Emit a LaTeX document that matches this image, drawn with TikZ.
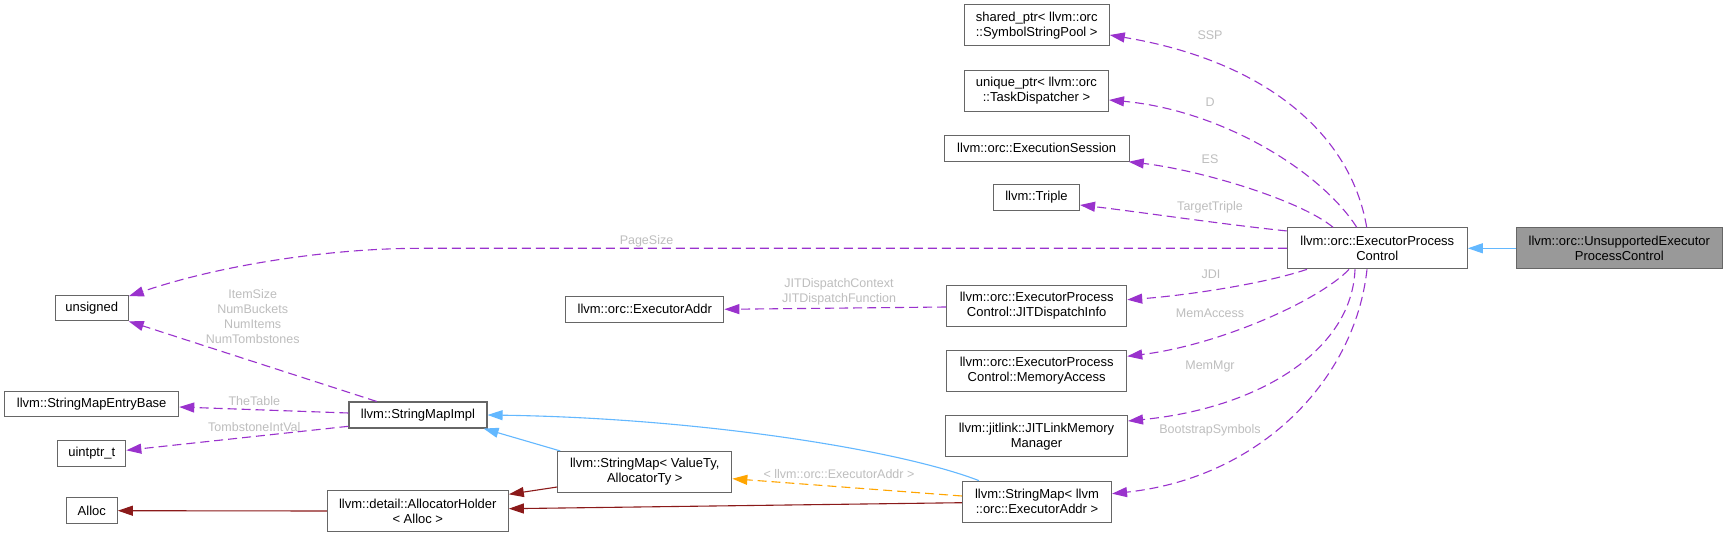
\documentclass[tikz,border=0pt]{standalone}
\usepackage{fontspec}
\setmainfont{Liberation Sans}
\usetikzlibrary{arrows.meta}
\definecolor{Box}{HTML}{666666}
\definecolor{Member}{HTML}{9A32CD}
\definecolor{Inherit}{HTML}{63B8FF}
\definecolor{Holder}{HTML}{8B1A1A}
\definecolor{Templ}{HTML}{FFA500}
\definecolor{Lbl}{HTML}{BEBEBE}
\definecolor{Current}{HTML}{999999}
\begin{document}
\begin{tikzpicture}[x=1pt,y=-1pt,font=\fontsize{13}{15}\selectfont,
    cls/.style 2 args={draw=Box,line width=1.1pt,fill=white,align=center,inner sep=0pt,minimum width=#1,minimum height=#2},
    lbl/.style={text=Lbl,align=center,inner sep=0pt,font=\fontsize{12.5}{15}\selectfont},
    tip/.style={-{Triangle[length=15pt,width=10pt]}},
    mem/.style={tip,Member,line width=1.1pt,dash pattern=on 9pt off 5pt},
    inh/.style={tip,Inherit,line width=1.1pt},
    own/.style={tip,Holder,line width=1.1pt},
    tpl/.style={tip,Templ,line width=1.1pt,dash pattern=on 9pt off 5pt}]
  \fill[white](0,0)rectangle(1727,537);
  \useasboundingbox(0,0)rectangle(1727,537);
  % classes
  \node[cls={206pt}{41pt},fill=Current](uepc)at(1619.3,248.3){llvm::orc::UnsupportedExecutor\\ProcessControl};
  \node[cls={180pt}{41pt}](epc)at(1377.3,248.3){llvm::orc::ExecutorProcess\\Control};
  \node[cls={145pt}{41pt}](ssp)at(1036.7,25.3){shared\_ptr< llvm::orc\\::SymbolStringPool >};
  \node[cls={144pt}{41pt}](disp)at(1036.5,90.7){unique\_ptr< llvm::orc\\::TaskDispatcher >};
  \node[cls={185pt}{26pt}](es)at(1036.7,148.2){llvm::orc::ExecutionSession};
  \node[cls={86pt}{26pt}](triple)at(1036.5,197.5){llvm::Triple};
  \node[cls={73pt}{25pt}](uns)at(91.7,308.3){unsigned};
  \node[cls={180pt}{41pt}](jdi)at(1036.7,305.7){llvm::orc::ExecutorProcess\\Control::JITDispatchInfo};
  \node[cls={180pt}{41pt}](memacc)at(1036.7,371){llvm::orc::ExecutorProcess\\Control::MemoryAccess};
  \node[cls={182pt}{41pt}](memmgr)at(1036.5,436.3){llvm::jitlink::JITLinkMemory\\Manager};
  \node[cls={158pt}{26pt}](addr)at(644.8,309.3){llvm::orc::ExecutorAddr};
  \node[cls={138pt}{26pt}](smimpl)at(418,415){llvm::StringMapImpl};
  \node[cls={174pt}{25pt}](entry)at(91.7,404.3){llvm::StringMapEntryBase};
  \node[cls={68pt}{26pt}](uptr)at(91.8,453.3){uintptr\_t};
  \node[cls={51pt}{26pt}](alloc)at(91.8,510.7){Alloc};
  \node[cls={181pt}{41pt}](holder)at(417.8,511){llvm::detail::AllocatorHolder\\< Alloc >};
  \node[cls={174pt}{41pt}](smvt)at(644.8,472){llvm::StringMap< ValueTy,\\AllocatorTy >};
  \node[cls={149pt}{41pt}](smaddr)at(1037,501.7){llvm::StringMap< llvm\\::orc::ExecutorAddr >};
  % inheritance
  \draw[inh](uepc.west)--(epc.east);
  \draw[inh]([xshift=3pt]smvt.north west)--([xshift=-4pt]smimpl.south east);
  \draw[inh]([xshift=-58pt]smaddr.north)..controls(900,450)and(700,418)..(smimpl.east);
  % members of epc
  \draw[mem]([xshift=-10.6pt]epc.north)..controls(1350,130)and(1260,60)..([yshift=-9.7pt]ssp.east);
  \draw[mem]([xshift=-20.6pt]epc.north)..controls(1320,170)and(1220,110)..([yshift=-9.3pt]disp.east);
  \draw[mem]([xshift=-44.3pt]epc.north)..controls(1300,200)and(1200,170)..([xshift=-1pt]es.south east);
  \draw[mem]([yshift=-3.7pt]epc.north west)..controls(1220,224)and(1140,212)..([yshift=-7.5pt]triple.east);
  \draw[mem](epc.west)--(420,248.3)..controls(330,248.3)and(220,265)..([yshift=-1pt]uns.north east);
  \draw[mem]([xshift=-70.3pt]epc.south)..controls(1260,285)and(1180,296)..([yshift=6pt]jdi.east);
  \draw[mem]([xshift=-28.3pt]epc.south)..controls(1320,300)and(1220,345)..([yshift=14.7pt]memacc.east);
  \draw[mem]([xshift=-22.3pt]epc.south)..controls(1352,350)and(1260,408)..([yshift=15.3pt]memmgr.east);
  \draw[mem]([xshift=-10.3pt]epc.south)..controls(1355,380)and(1260,478)..([yshift=8pt]smaddr.east);
  \node[lbl](lssp)at(1210,35){SSP};
  \node[lbl](ld)at(1210,102.3){D};
  \node[lbl](les)at(1210,159.3){ES};
  \node[lbl](ltt)at(1210,207.7){TargetTriple};
  \node[lbl](lps)at(646.5,241.2){PageSize};
  \node[lbl](ljdi)at(1211,274){JDI};
  \node[lbl](lma)at(1210,313){MemAccess};
  \node[lbl](lmm)at(1210,366.3){MemMgr};
  \node[lbl](lbs)at(1210,430.3){BootstrapSymbols};
  % other members
  \draw[mem]([yshift=-1.3pt]jdi.west)--(addr.east);
  \node[lbl](ljdf)at(839,291.8){JITDispatchContext\\JITDispatchFunction};
  \draw[mem]([xshift=-41.3pt]smimpl.north)--(uns.south east);
  \node[lbl](lnum)at(252.7,316.8){ItemSize\\NumBuckets\\NumItems\\NumTombstones};
  \draw[mem]([yshift=2pt]smimpl.west)--([yshift=-2.7pt]entry.east);
  \node[lbl](ltab)at(254.3,401.3){TheTable};
  \draw[mem]([yshift=-11.3pt]smimpl.west)--([yshift=3pt]uptr.east);
  \node[lbl](ltomb)at(254.3,427){TombstoneIntVal};
  % allocator holders
  \draw[own]([yshift=-15pt]smvt.west)--([yshift=16.7pt]holder.east);
  \draw[own]([yshift=-1pt]smaddr.west)--([yshift=2.3pt]holder.east);
  \draw[own](holder.west)--(alloc.east);
  % template instance
  \draw[tpl]([yshift=5.7pt]smaddr.west)--([yshift=-6.7pt]smvt.east);
  \node[lbl](ltpl)at(839,474.3){< llvm::orc::ExecutorAddr >};
\end{tikzpicture}
\end{document}
